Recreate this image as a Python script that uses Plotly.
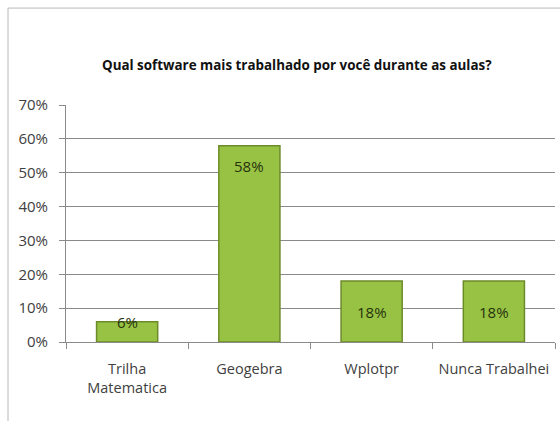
import plotly.graph_objects as go

categories = ["Trilha Matematica", "Geogebra", "Wplotpr", "Nunca Trabalhei"]
tick_labels = ["Trilha<br>Matematica", "Geogebra", "Wplotpr", "Nunca Trabalhei"]
values = [0.06, 0.58, 0.18, 0.18]
labels = ["6%", "58%", "18%", "18%"]
tick_vals = [0, 0.1, 0.2, 0.3, 0.4, 0.5, 0.6, 0.7]
tick_text = ["0%", "10%", "20%", "30%", "40%", "50%", "60%", "70%"]
title = "Qual software mais trabalhado por você durante as aulas?"

FONT = "Open Sans, sans-serif"

fig = go.Figure()
fig.add_trace(go.Bar(
    x=categories, y=values,
    marker=dict(color="#98C244", line=dict(color="#6C8C2A", width=1.5)),
    width=0.5,
    hoverinfo="skip",
))

# data labels (Excel-like placement)
for c, v, t in zip(categories, values, labels):
    if v > 0.4:
        y, anchor, shift = v, "top", -8
    elif v > 0.1:
        y, anchor, shift = v / 2, "middle", 0
    else:
        y, anchor, shift = v, "middle", 0
    fig.add_annotation(x=c, y=y, text=t, showarrow=False, yanchor=anchor, yshift=shift,
                       font=dict(family=FONT, size=15, color="#26330c"))

# outer frame
fig.add_shape(type="rect", xref="paper", yref="paper",
              x0=-0.1186, x1=1.2, y0=-0.5, y1=1.409,
              line=dict(color="#b8b8b8", width=1), layer="below")

fig.update_layout(
    width=560, height=421,
    margin=dict(l=66, r=5, t=105, b=79),
    paper_bgcolor="white", plot_bgcolor="white",
    showlegend=False,
    title=dict(text="<b>" + title + "</b>", x=0.53, xanchor="center", y=1 - 65/421, yanchor="middle",
               font=dict(family=FONT, size=13.4, color="#111111")),
    font=dict(family=FONT, color="#404040"),
    bargap=0.5,
)
fig.update_yaxes(range=[0, 0.7], tickvals=tick_vals, ticktext=tick_text,
                 showgrid=True, gridcolor="#8a8a8a", gridwidth=1,
                 showline=True, linecolor="#8a8a8a", ticks="outside", ticklen=6, tickcolor="#8a8a8a",
                 ticklabelstandoff=8, automargin=False,
                 tickfont=dict(family=FONT, size=15, color="#404040"), zeroline=False)
fig.update_xaxes(showline=True, linecolor="#8a8a8a", ticks="outside", tickson="boundaries",
                 ticklen=6, tickcolor="#8a8a8a", ticklabelstandoff=14, tickangle=0,
                 automargin=False,
                 tickvals=categories, ticktext=tick_labels,
                 tickfont=dict(family=FONT, size=14.5, color="#404040"))

fig.write_html("out.html")
